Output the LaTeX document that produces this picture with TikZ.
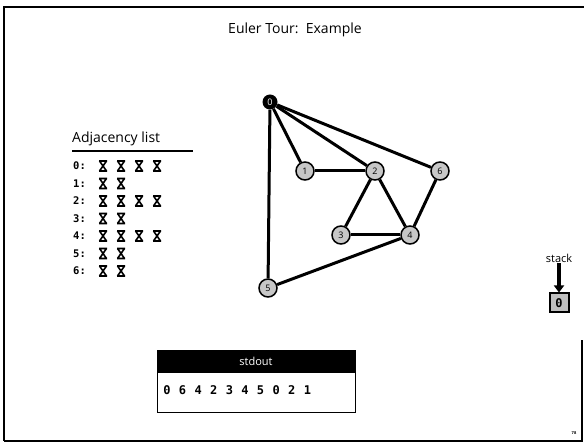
\documentclass[tikz,border=0pt]{standalone}
\usepackage{fontspec}
\setmainfont{Open Sans}
\newfontfamily\monofont{DejaVu Sans Mono}
\usetikzlibrary{backgrounds,arrows.meta}
\begin{document}
\begin{tikzpicture}[x=1pt,y=-1pt,
  frameline/.style={line width=2pt},
  vtx/.style={circle, draw=black, line width=1.5pt, fill=black!22, minimum size=18pt, inner sep=0pt, font=\fontsize{9}{9}\selectfont},
  root/.style={circle, fill=black, minimum size=15pt, inner sep=0pt, text=white, font=\fontsize{9}{9}\selectfont},
  edge/.style={line width=3pt},
  rowlbl/.style={anchor=west, inner sep=0pt, font=\monofont\bfseries\fontsize{10.5}{10.5}\selectfont},
  xm/.pic={\draw[line width=1.6pt] (-3.5,-5)--(3.5,5) (3.5,-5)--(-3.5,5) (-4,-5)--(4,-5) (-4,5)--(4,5);},
  digit/.style={inner sep=0pt, font=\monofont\bfseries\fontsize{12}{12}\selectfont}
]
\useasboundingbox (0,0) rectangle (584,443);
% frame
\draw[frameline] (4,441) -- (4,7) -- (584,7);
\draw[frameline] (4,441) -- (582,441) -- (582,340);

% title
\node[font=\fontsize{14}{14}\selectfont] (title) at (295,30) {Euler Tour:\ \ Example};

% graph
\node[root] (n0) at (270,102) {0};
\node[vtx] (n1) at (305,171) {1};
\node[vtx] (n2) at (375,171) {2};
\node[vtx] (n6) at (440,171) {6};
\node[vtx] (n3) at (341,235) {3};
\node[vtx] (n4) at (410,235) {4};
\node[vtx] (n5) at (268,288) {5};
\begin{pgfonlayer}{background}
\draw[edge] (n0) -- (n1);
\draw[edge] (n0) -- (n2);
\draw[edge] (n0) -- (n6);
\draw[edge] (n0) -- (n5);
\draw[edge] (n1) -- (n2);
\draw[edge] (n2) -- (n3);
\draw[edge] (n2) -- (n4);
\draw[edge] (n3) -- (n4);
\draw[edge] (n4) -- (n5);
\draw[edge] (n4) -- (n6);
\end{pgfonlayer}

% adjacency list
\node[anchor=west, inner sep=0pt, font=\fontsize{14}{14}\selectfont] (adjt) at (72,139) {Adjacency list};
\coordinate (ul1) at (72,151);
\coordinate (ul2) at (193,151);
\draw[line width=1.2pt] (ul1) -- (ul2);
\foreach \i/\n in {0/4,1/2,2/4,3/2,4/4,5/2,6/2}{
  \node[rowlbl] (r\i) at (73,{166+17.5*\i}) {\i:};
  \foreach \k in {1,...,\n}{
    \pic at ({103+18*(\k-1)},{166+17.5*\i}) {xm};
  }
}

% stdout
\node[fill=black, draw=black, text=white, minimum width=198pt, minimum height=22pt, inner sep=0pt, font=\fontsize{11}{11}\selectfont] (hdr) at (256,361) {stdout};
\node[draw=black, line width=1pt, minimum width=198pt, minimum height=40pt, inner sep=0pt, anchor=north] (out) at (hdr.south) {};
\foreach \d [count=\j from 0] in {0,6,4,2,3,4,5,0,2,1}{
  \node[digit] (d\j) at ({167+15.6*\j},390) {\d};
}

% stack
\node[font=\fontsize{11}{11}\selectfont, inner sep=1pt] (stk) at (559,258) {stack};
\node[draw=black, line width=2pt, fill=black!25, minimum size=19pt, inner sep=0pt, font=\monofont\bfseries\fontsize{12}{12}\selectfont] (sb) at (559,303) {0};
\draw[line width=3.5pt, -{Triangle[width=10pt,length=7pt]}] (stk.south) -- (sb.north);

% page number
\node[font=\fontsize{4}{4}\selectfont\bfseries] (pg) at (574,433) {78};
\end{tikzpicture}
\end{document}
